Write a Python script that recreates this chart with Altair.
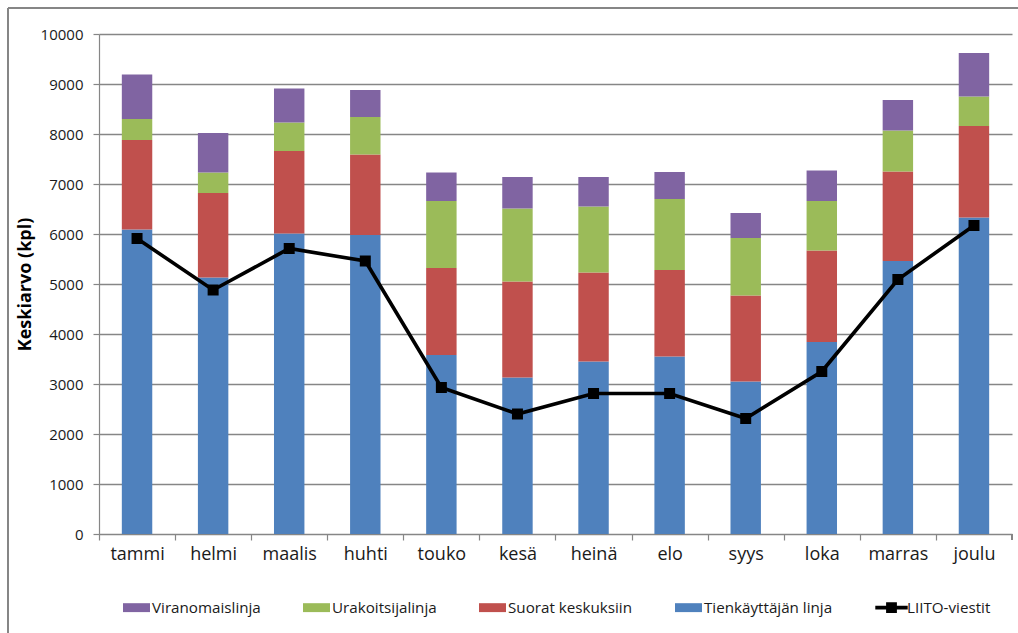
import altair as alt
import pandas as pd

# Monthly averages (kpl)
months = ["tammi", "helmi", "maalis", "huhti", "touko", "kesä",
          "heinä", "elo", "syys", "loka", "marras", "joulu"]
tienkayttaja = [6090, 5130, 6010, 5980, 3580, 3130, 3450, 3550, 3050, 3840, 5460, 6330]
suorat = [1790, 1690, 1650, 1610, 1740, 1920, 1780, 1730, 1720, 1830, 1790, 1830]
urakoitsija = [420, 410, 570, 750, 1340, 1460, 1320, 1420, 1150, 990, 820, 590]
viranomais = [890, 790, 680, 540, 570, 630, 590, 540, 500, 610, 610, 870]
liito = [5910, 4880, 5710, 5460, 2930, 2400, 2810, 2810, 2310, 3250, 5090, 6170]

series_names = ["Viranomaislinja", "Urakoitsijalinja", "Suorat keskuksiin",
                "Tienkäyttäjän linja", "LIITO-viestit"]
series_colors = ["#8064A2", "#9BBB59", "#C0504D", "#4F81BD", "#000000"]

# Legend glyphs: wide swatch for the bar series, line with a square for the line series
swatch = "M-1,-0.33H1V0.33H-1Z"
line_glyph = "M-1.2,-0.14H1.2V0.14H-1.2Z M-0.4,-0.4H0.4V0.4H-0.4Z"
series_shapes = [swatch, swatch, swatch, swatch, line_glyph]

stack_parts = [
    ("Tienkäyttäjän linja", tienkayttaja, 0),
    ("Suorat keskuksiin", suorat, 1),
    ("Urakoitsijalinja", urakoitsija, 2),
    ("Viranomaislinja", viranomais, 3),
]
bar_rows = []
for name, vals, rank in stack_parts:
    for m, v in zip(months, vals):
        bar_rows.append({"kuukausi": m, "sarja": name, "arvo": v, "jarjestys": rank})
bars_df = pd.DataFrame(bar_rows)
line_df = pd.DataFrame({"kuukausi": months, "arvo": liito})

W, H = 913, 500
step = W / 12

font = "Open Sans"
gray = "#868686"

x_enc = alt.X(
    "kuukausi:N", sort=months, title=None,
    scale=alt.Scale(paddingInner=0.6, paddingOuter=0.3),
    axis=alt.Axis(
        labelAngle=0, labelFont=font, labelFontSize=18, labelColor="#1a1a1a",
        tickOffset=-step / 2, labelOffset=step / 2, tickSize=6, tickColor=gray,
        tickWidth=1.2, domainColor=gray, domainWidth=1.2, labelPadding=5,
        grid=False,
    ),
)
y_scale = alt.Scale(domain=[0, 10000], nice=False)

color_scale = alt.Scale(domain=series_names, range=series_colors)
shape_scale = alt.Scale(domain=series_names, range=series_shapes)
legend = alt.Legend(
    title=None, orient="none", direction="horizontal", legendX=24, legendY=560,
    symbolSize=729, symbolStrokeWidth=0, symbolOpacity=1, labelFont=font,
    labelFontSize=15.2, labelColor="#1a1a1a", labelOffset=2, columnPadding=42,
    labelLimit=300,
)

bars = alt.Chart(bars_df).mark_bar(size=step * 0.4).encode(
    x=x_enc,
    y=alt.Y(
        "sum(arvo):Q", scale=y_scale, title="Keskiarvo (kpl)",
        axis=alt.Axis(
            values=list(range(0, 10001, 1000)), format="d", labelFont=font,
            labelFontSize=15, labelColor="#1a1a1a", tickSize=6, tickColor=gray,
            tickWidth=1.2, domainColor=gray, domainWidth=1.2, gridColor=gray,
            gridWidth=1.3, labelPadding=10, titleFont=font, titleFontSize=18,
            titleFontWeight="bold", titleColor="#000000", titleX=-74, titleY=H / 2,
            titleAlign="center", titleBaseline="middle", titleAngle=270,
        ),
    ),
    color=alt.Color("sarja:N", scale=color_scale, legend=legend),
    order=alt.Order("jarjestys:Q", sort="ascending"),
)

# Empty layer that carries the legend glyph shapes
legend_shapes = alt.Chart(bars_df).transform_filter("false").mark_point(filled=True).encode(
    x=alt.X("kuukausi:N", sort=months),
    y=alt.Y("arvo:Q", scale=y_scale, stack=None),
    color=alt.Color("sarja:N", scale=color_scale, legend=legend),
    shape=alt.Shape("sarja:N", scale=shape_scale, legend=legend),
)

line = alt.Chart(line_df).mark_line(color="#000000", strokeWidth=3.6).encode(
    x=alt.X("kuukausi:N", sort=months),
    y=alt.Y("arvo:Q", scale=y_scale),
)
points = alt.Chart(line_df).mark_square(color="#000000", size=121, opacity=1).encode(
    x=alt.X("kuukausi:N", sort=months),
    y=alt.Y("arvo:Q", scale=y_scale),
)

# Closing tick at the right end of the category axis
end_tick = alt.Chart(line_df).mark_rule(color=gray, strokeWidth=1.2).encode(
    x=alt.value(W), y=alt.value(H), y2=alt.value(H + 6)
)
# Chart frame (top and left edges)
frame_top = alt.Chart(line_df).mark_rule(color=gray, strokeWidth=1.2).encode(
    x=alt.value(-91), x2=alt.value(W + 10), y=alt.value(-26)
)
frame_left = alt.Chart(line_df).mark_rule(color=gray, strokeWidth=1.2).encode(
    x=alt.value(-91), y=alt.value(-26), y2=alt.value(H + 100)
)

chart = alt.layer(bars, legend_shapes, line, points, end_tick, frame_top, frame_left).properties(
    width=W, height=H,
    autosize=alt.AutoSizeParams(type="none"),
    padding={"left": 99, "top": 34, "right": 6, "bottom": 99},
    background="#ffffff",
).configure_view(stroke=None)

chart.save("out.html", embed_options={"renderer": "svg", "actions": False})
